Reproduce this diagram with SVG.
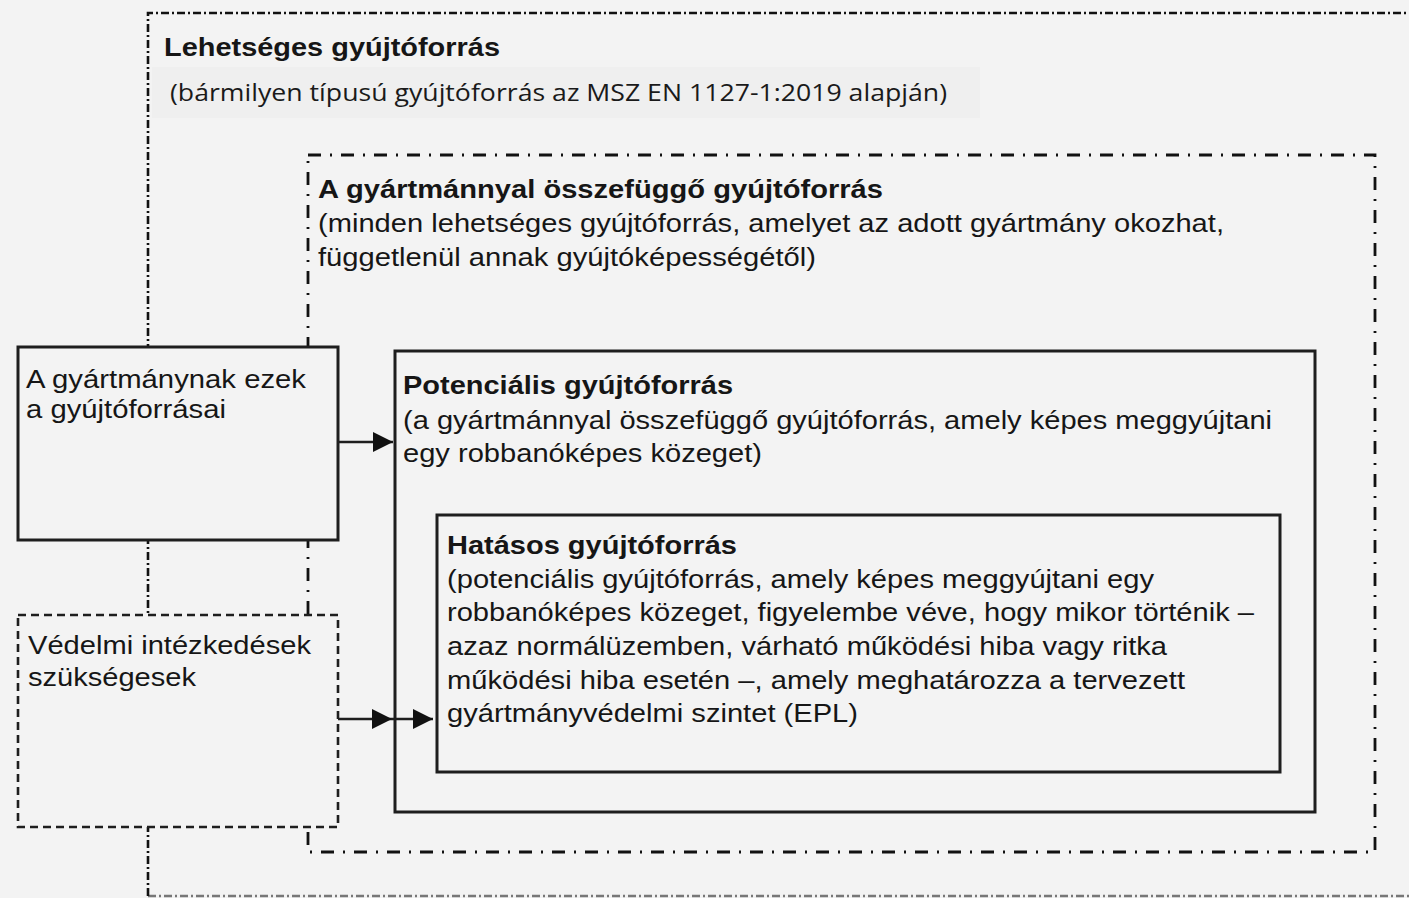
<svg xmlns="http://www.w3.org/2000/svg" width="1409" height="898" viewBox="0 0 1409 898">
<defs>
<style>
.t{font-family:"Liberation Sans",Arial,sans-serif;font-size:26px;fill:#161616}
.b{font-weight:bold}
.o{font-family:"Open Sans","Noto Sans",sans-serif;font-size:24px;fill:#1a1a1a}
.dd1{fill:none;stroke:#111;stroke-width:2.6;stroke-dasharray:8 3 2 3}
.dd2{fill:none;stroke:#111;stroke-width:2.8;stroke-dasharray:13 9 2 9}
.solid{fill:none;stroke:#1e1e1e;stroke-width:3}
.solidf{fill:#f3f3f3;stroke:#1e1e1e;stroke-width:3}
.dashf{fill:#f3f3f3;stroke:#1e1e1e;stroke-width:2.6;stroke-dasharray:8 5}
.con{fill:none;stroke:#1e1e1e;stroke-width:2.4}
</style>
<marker id="ah2" viewBox="0 0 10 10" refX="10" refY="5" markerWidth="20" markerHeight="20" markerUnits="userSpaceOnUse" orient="auto">
<path d="M0,0 L10,5 L0,10 z" fill="#111"/>
</marker>
</defs>
<rect width="1409" height="898" fill="#f3f3f3"/>

<g id="possible">
<path class="dd1" d="M148,896 L148,13 L1409,13"/>
<path class="dd1" d="M148,896 L1409,896" stroke-opacity="0.55"/>
<rect x="152" y="67" width="828" height="51" fill="#efefef"/>
<text class="t b" x="164" y="56" textLength="336" lengthAdjust="spacingAndGlyphs">Lehetséges gyújtóforrás</text>
<text class="o" x="170" y="101" textLength="777" lengthAdjust="spacingAndGlyphs">(bármilyen típusú gyújtóforrás az MSZ EN 1127-1:2019 alapján)</text>
</g>

<g id="related">
<rect class="dd2" x="308" y="155" width="1067" height="697"/>
<text class="t b" x="318" y="198" textLength="565" lengthAdjust="spacingAndGlyphs">A gyártmánnyal összefüggő gyújtóforrás</text>
<text class="t" x="318" y="232" textLength="906" lengthAdjust="spacingAndGlyphs">(minden lehetséges gyújtóforrás, amelyet az adott gyártmány okozhat,</text>
<text class="t" x="318" y="266" textLength="498" lengthAdjust="spacingAndGlyphs">függetlenül annak gyújtóképességétől)</text>
</g>

<g id="sources">
<rect class="solidf" x="18" y="347" width="320" height="193"/>
<text class="t" x="26" y="388" textLength="280" lengthAdjust="spacingAndGlyphs">A gyártmánynak ezek</text>
<text class="t" x="26" y="418" textLength="200" lengthAdjust="spacingAndGlyphs">a gyújtóforrásai</text>
</g>

<g id="measures">
<rect class="dashf" x="18" y="615" width="320" height="212"/>
<text class="t" x="28" y="654" textLength="283" lengthAdjust="spacingAndGlyphs">Védelmi intézkedések</text>
<text class="t" x="28" y="686" textLength="168" lengthAdjust="spacingAndGlyphs">szükségesek</text>
</g>

<g id="potential">
<rect class="solid" x="395" y="351" width="920" height="461"/>
<text class="t b" x="403" y="394" textLength="330" lengthAdjust="spacingAndGlyphs">Potenciális gyújtóforrás</text>
<text class="t" x="403" y="429" textLength="869" lengthAdjust="spacingAndGlyphs">(a gyártmánnyal összefüggő gyújtóforrás, amely képes meggyújtani</text>
<text class="t" x="403" y="462" textLength="359" lengthAdjust="spacingAndGlyphs">egy robbanóképes közeget)</text>
</g>

<g id="effective">
<rect class="solid" x="437" y="515" width="843" height="257"/>
<text class="t b" x="447" y="554" textLength="290" lengthAdjust="spacingAndGlyphs">Hatásos gyújtóforrás</text>
<text class="t" x="447" y="588" textLength="707" lengthAdjust="spacingAndGlyphs">(potenciális gyújtóforrás, amely képes meggyújtani egy</text>
<text class="t" x="447" y="621" textLength="807" lengthAdjust="spacingAndGlyphs">robbanóképes közeget, figyelembe véve, hogy mikor történik –</text>
<text class="t" x="447" y="655" textLength="720" lengthAdjust="spacingAndGlyphs">azaz normálüzemben, várható működési hiba vagy ritka</text>
<text class="t" x="447" y="689" textLength="738" lengthAdjust="spacingAndGlyphs">működési hiba esetén –, amely meghatározza a tervezett</text>
<text class="t" x="447" y="722" textLength="411" lengthAdjust="spacingAndGlyphs">gyártmányvédelmi szintet (EPL)</text>
</g>

<g id="connectors">
<path class="con" d="M338,442 L393,442" marker-end="url(#ah2)"/>
<path class="con" d="M338,719 L392,719" marker-end="url(#ah2)"/>
<path class="con" d="M392,719 L433,719" marker-end="url(#ah2)"/>
</g>
</svg>
